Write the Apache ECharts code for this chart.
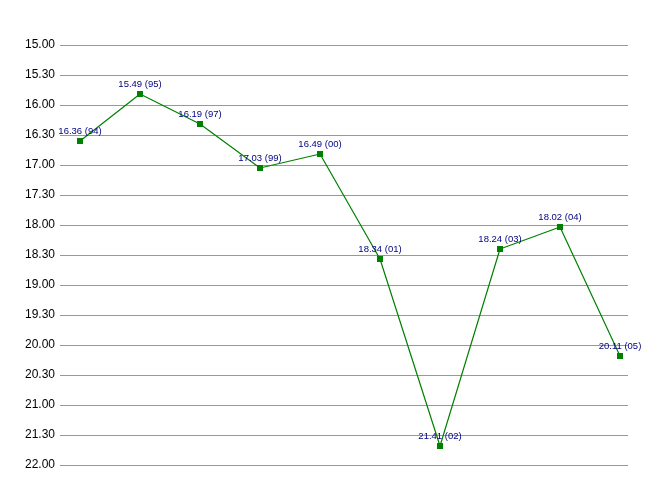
<!DOCTYPE html>
<html><head><meta charset="utf-8">
<script src="https://cdn.jsdelivr.net/npm/echarts@6/dist/echarts.min.js"></script>
<style>html,body{margin:0;padding:0;background:#fff}#c{width:668px;height:495px}</style>
</head><body><div id="c"></div>
<script>
const years = ["94","95","97","99","00","01","02","03","04","05"];
const times = ["16.36","15.49","16.19","17.03","16.49","18.34","21.41","18.24","18.02","20.11"];
const yMinLabel = "15.00", yMaxLabel = "22.00", yStepSeconds = 30;

function toSec(s){ const p = s.split("."); return (+p[0])*60 + (+p[1]); }
function fmt(v){ const m = Math.floor(v/60), s = Math.round(v - m*60); return m + "." + (s<10?"0":"") + s; }

const data = times.map((t,i)=>[i, toSec(t), t + " (" + years[i] + ")"]);
const chart = echarts.init(document.getElementById('c'));
chart.setOption({
  animation:false,
  grid:{left:60, right:40, top:45, bottom:30},
  xAxis:{type:'value', min:-1/3, max:9+8/60, show:false},
  yAxis:{type:'value', inverse:true, min:toSec(yMinLabel), max:toSec(yMaxLabel), interval:yStepSeconds,
    axisLine:{show:false}, axisTick:{show:false},
    axisLabel:{formatter:fmt, color:'#000', fontFamily:'Liberation Sans Narrow, Arial Narrow, Liberation Sans, sans-serif', fontSize:12, margin:5},
    splitLine:{lineStyle:{color:'#999', width:1}}},
  series:[{type:'line', data:data, symbol:'rect', symbolSize:6,
    itemStyle:{color:'#008000'}, lineStyle:{color:'#008000', width:1.2},
    label:{show:true, position:'top', distance:2, color:'#000080', fontSize:9.5, fontFamily:'Liberation Sans, Arial, sans-serif',
      formatter:p=>p.data[2]}}]
});
</script></body></html>
